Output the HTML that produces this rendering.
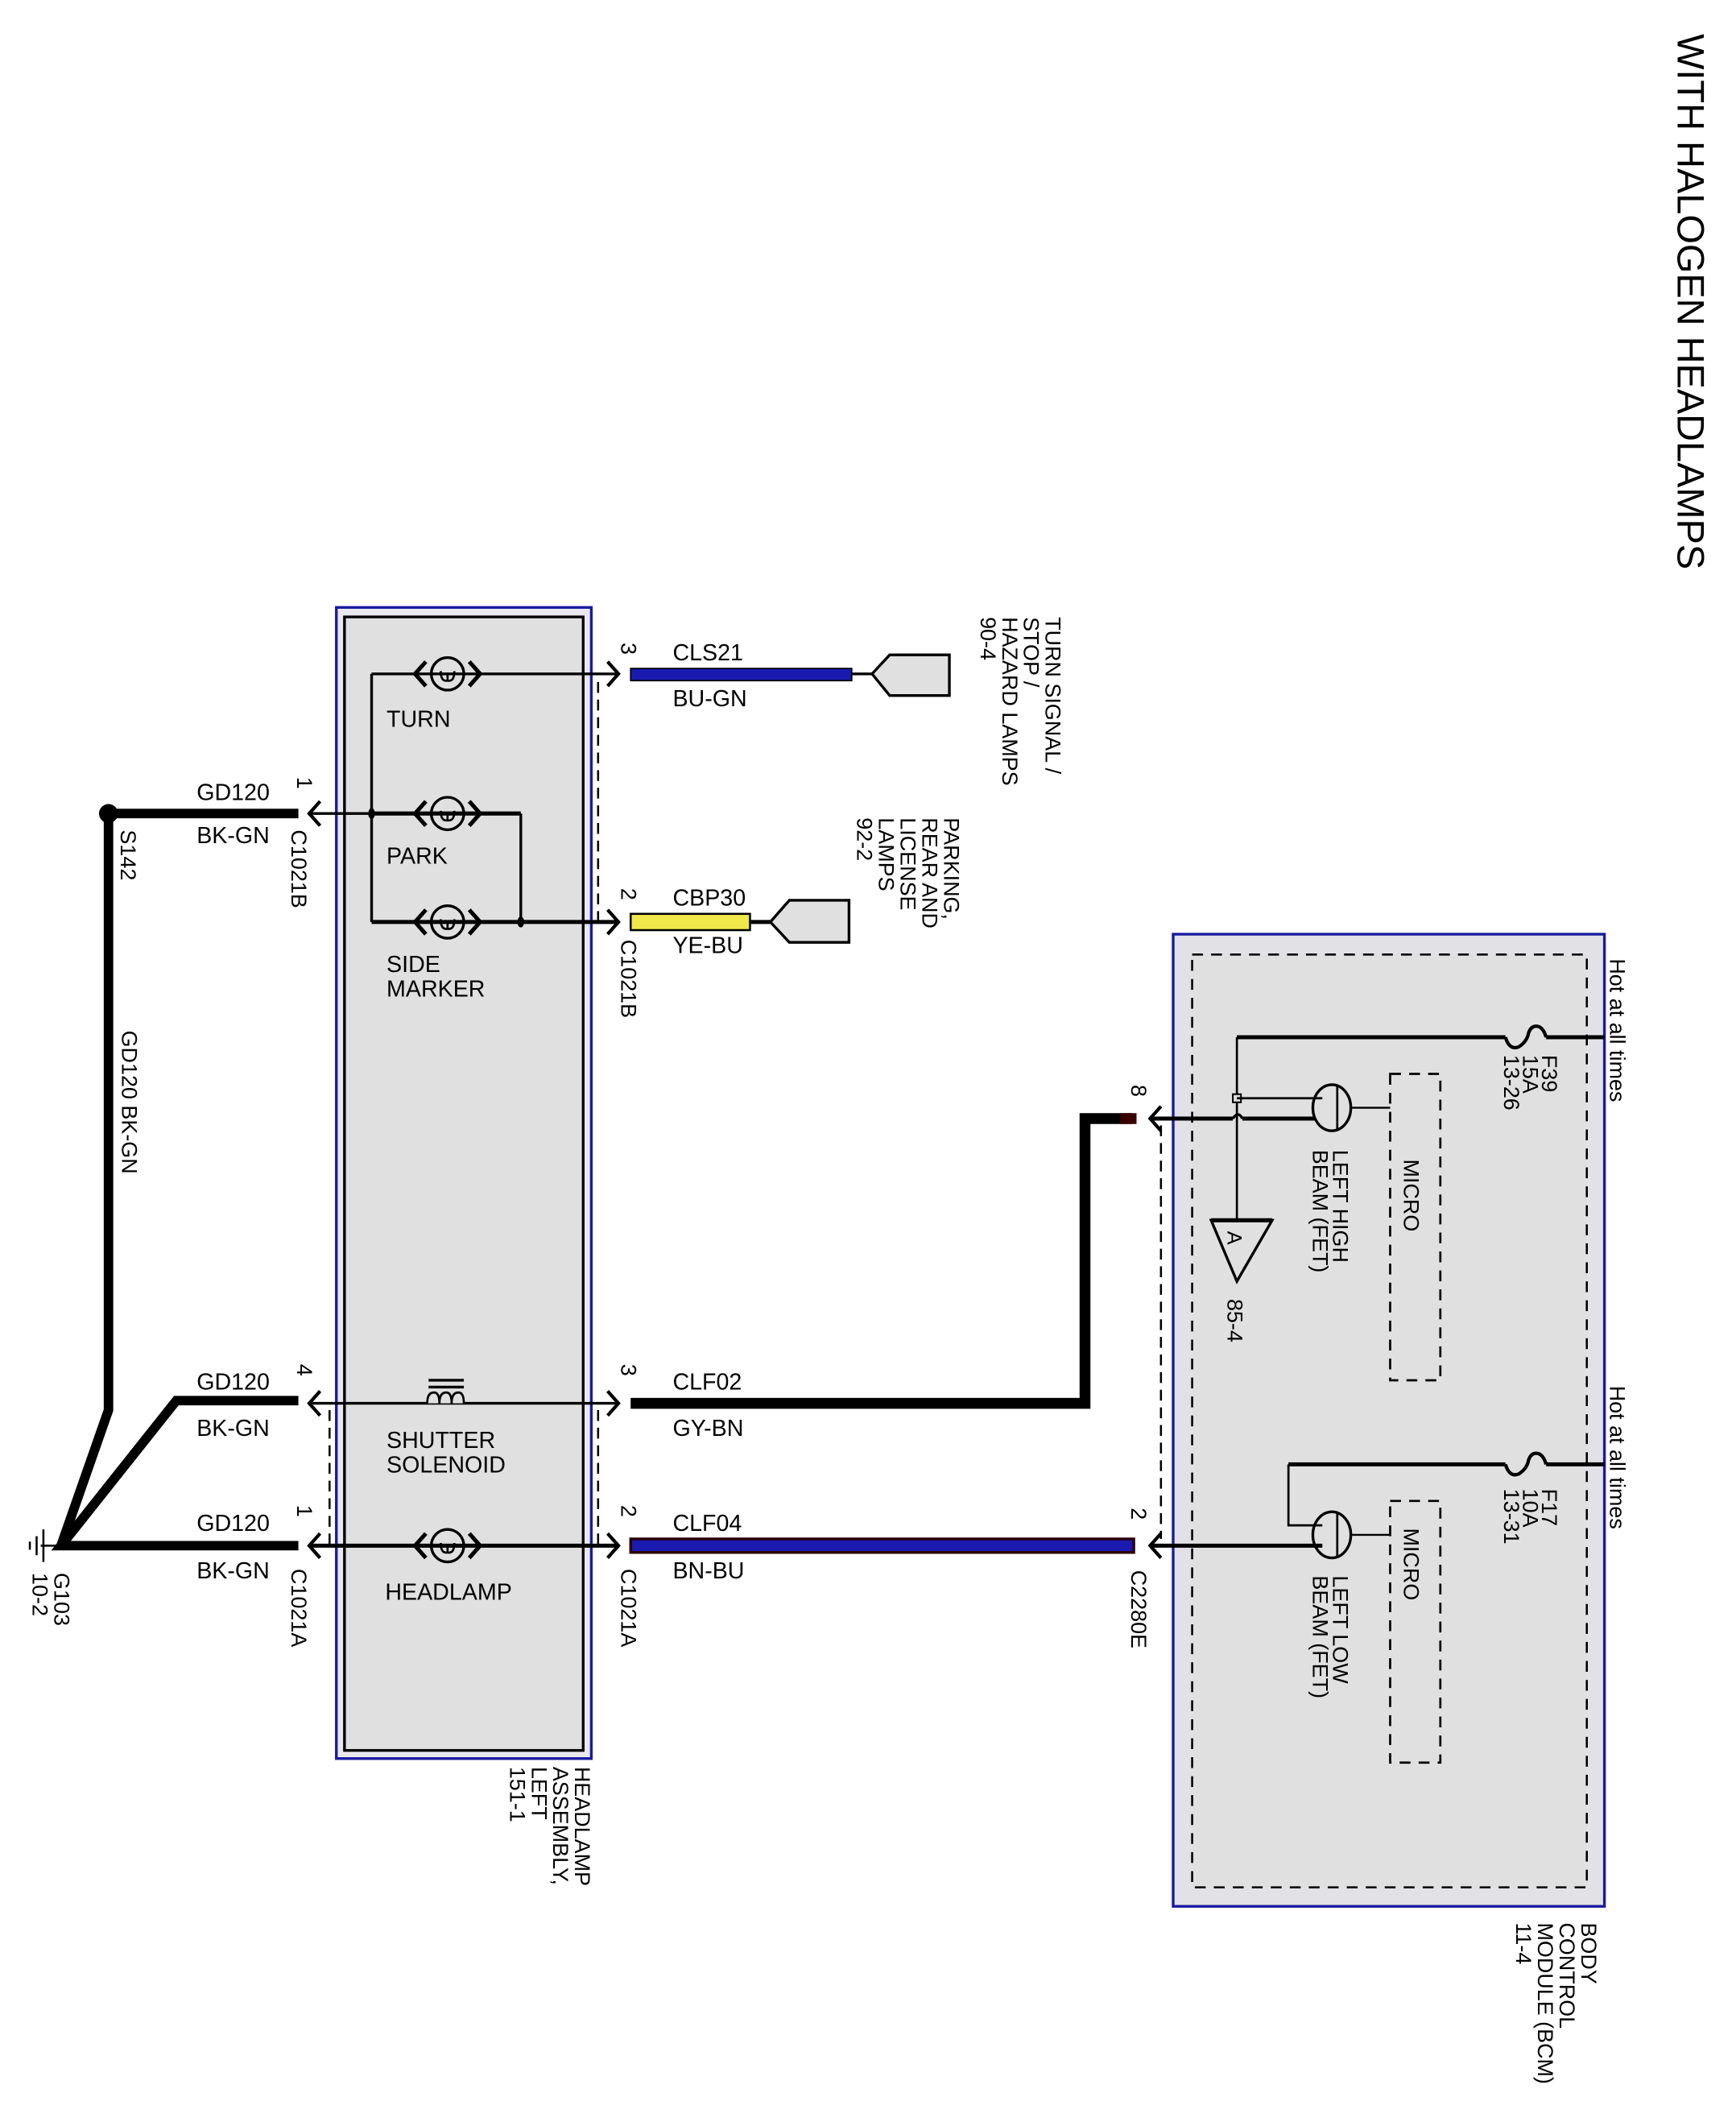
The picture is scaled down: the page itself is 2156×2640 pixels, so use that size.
<!DOCTYPE html>
<html><head><meta charset="utf-8"><style>
html,body{margin:0;padding:0;background:#fff;}
svg{display:block;}
text{font-family:"Liberation Sans",Arial,sans-serif;fill:#000;}
</style></head><body>
<svg width="2156" height="2640" viewBox="0 0 1280 1568" preserveAspectRatio="none" xmlns="http://www.w3.org/2000/svg">
<defs>
<g id="lamp">
<circle cx="0" cy="0" r="12" fill="none" stroke="#000" stroke-width="2"/>
<path d="M-5,-2 Q-5,6 0,5 Q5,6 5,-2 M0,-1 L0,5" fill="none" stroke="#000" stroke-width="1.6"/>
<path d="M-16,-9 L-24,0 L-16,9" fill="none" stroke="#000" stroke-width="3"/>
<path d="M16,-9 L24,0 L16,9" fill="none" stroke="#000" stroke-width="3"/>
</g>
</defs>
<rect width="1280" height="1568" fill="#fff"/>

<!-- Title -->
<text transform="translate(1237,25) rotate(90)" font-size="28" textLength="395" lengthAdjust="spacingAndGlyphs">WITH HALOGEN HEADLAMPS</text>

<!-- Headlamp assembly box -->
<rect x="248" y="448" width="188" height="849" fill="#e8e8ee" stroke="#1a1aa0" stroke-width="2"/>
<rect x="254" y="455" width="176" height="836" fill="#e0e0e0" stroke="#000" stroke-width="2"/>
<text transform="translate(424,1303) rotate(90)" font-size="16"><tspan x="0" dy="0">HEADLAMP</tspan><tspan x="0" dy="16">ASSEMBLY,</tspan><tspan x="0" dy="16">LEFT</tspan><tspan x="0" dy="16">151-1</tspan></text>

<!-- dashed connector lines -->
<line x1="441" y1="503" x2="441" y2="680" stroke="#000" stroke-width="1.5" stroke-dasharray="8,5"/>
<line x1="441" y1="1040" x2="441" y2="1140" stroke="#000" stroke-width="1.5" stroke-dasharray="8,5"/>
<line x1="243" y1="1040" x2="243" y2="1140" stroke="#000" stroke-width="1.5" stroke-dasharray="8,5"/>
<line x1="856" y1="830" x2="856" y2="1135" stroke="#000" stroke-width="1.5" stroke-dasharray="8,5"/>

<!-- TURN -->
<line x1="274" y1="497" x2="455" y2="497" stroke="#000" stroke-width="2"/>
<line x1="274" y1="497" x2="274" y2="680" stroke="#000" stroke-width="2"/>
<use href="#lamp" x="330" y="497"/>
<text x="285" y="536" font-size="17">TURN</text>
<path d="M448,488 L456,497 L448,506" fill="none" stroke="#000" stroke-width="2.5"/>
<rect x="465" y="493" width="163" height="9" fill="#1a1ab0" stroke="#000" stroke-width="1"/>
<line x1="628" y1="497" x2="643" y2="497" stroke="#000" stroke-width="2"/>
<path d="M643,497 L656,483 L700,483 L700,513 L656,513 Z" fill="#e0e0e0" stroke="#000" stroke-width="2"/>
<text transform="translate(458,474) rotate(90)" font-size="16">3</text>
<text x="496" y="487" font-size="17">CLS21</text>
<text x="496" y="521" font-size="17">BU-GN</text>
<text transform="translate(771,455) rotate(90)" font-size="16"><tspan x="0" dy="0">TURN SIGNAL /</tspan><tspan x="0" dy="16">STOP /</tspan><tspan x="0" dy="16">HAZARD LAMPS</tspan><tspan x="0" dy="16">90-4</tspan></text>

<!-- PARK -->
<line x1="80" y1="600" x2="220" y2="600" stroke="#000" stroke-width="7"/>
<path d="M236,591 L228,600 L236,609" fill="none" stroke="#000" stroke-width="2.5"/>
<line x1="228" y1="600" x2="274" y2="600" stroke="#000" stroke-width="2"/>
<line x1="274" y1="600" x2="384" y2="600" stroke="#000" stroke-width="3"/>
<ellipse cx="274" cy="600" rx="2.5" ry="4" fill="#000"/>
<use href="#lamp" x="330" y="600"/>
<line x1="384" y1="600" x2="384" y2="680" stroke="#000" stroke-width="2"/>
<text x="285" y="637" font-size="17">PARK</text>
<circle cx="80" cy="600" r="7" fill="#000"/>
<text x="145" y="590" font-size="17">GD120</text>
<text x="145" y="622" font-size="17">BK-GN</text>
<text transform="translate(219,573) rotate(90)" font-size="16">1</text>
<text transform="translate(215,612) rotate(90)" font-size="16">C1021B</text>
<text transform="translate(89,612) rotate(90)" font-size="16">S142</text>

<!-- SIDE MARKER -->
<line x1="274" y1="680" x2="455" y2="680" stroke="#000" stroke-width="3"/>
<ellipse cx="384" cy="680" rx="2.5" ry="4" fill="#000"/>
<use href="#lamp" x="330" y="680"/>
<text x="285" y="717" font-size="17">SIDE</text>
<text x="285" y="735" font-size="17">MARKER</text>
<path d="M448,671 L456,680 L448,689" fill="none" stroke="#000" stroke-width="2.5"/>
<rect x="465" y="674" width="88" height="12" fill="#f0e84a" stroke="#000" stroke-width="1.5"/>
<line x1="553" y1="680" x2="568" y2="680" stroke="#000" stroke-width="3"/>
<path d="M568,680 L582,664 L626,664 L626,695 L582,695 Z" fill="#e0e0e0" stroke="#000" stroke-width="2"/>
<text transform="translate(458,655) rotate(90)" font-size="16">2</text>
<text transform="translate(458,693) rotate(90)" font-size="16">C1021B</text>
<text x="496" y="668" font-size="17">CBP30</text>
<text x="496" y="703" font-size="17">YE-BU</text>
<text transform="translate(696,603) rotate(90)" font-size="16"><tspan x="0" dy="0">PARKING,</tspan><tspan x="0" dy="16">REAR AND</tspan><tspan x="0" dy="16">LICENSE</tspan><tspan x="0" dy="16">LAMPS</tspan><tspan x="0" dy="16">92-2</tspan></text>

<!-- ground trunk -->
<polyline points="80,600 80,1040 45,1140" fill="none" stroke="#000" stroke-width="7" stroke-linejoin="miter"/>
<polyline points="220,1033 130,1033 45,1140 220,1140" fill="none" stroke="#000" stroke-width="7"/>
<text transform="translate(90,760) rotate(90)" font-size="16">GD120  BK-GN</text>
<line x1="30" y1="1140" x2="45" y2="1140" stroke="#000" stroke-width="1.5"/>
<line x1="32" y1="1128" x2="32" y2="1152" stroke="#000" stroke-width="1.5"/>
<line x1="27" y1="1133" x2="27" y2="1147" stroke="#000" stroke-width="1.5"/>
<line x1="22" y1="1137" x2="22" y2="1143" stroke="#000" stroke-width="1.5"/>
<text transform="translate(40,1160) rotate(90)" font-size="16"><tspan x="0" dy="0">G103</tspan><tspan x="0" dy="16">10-2</tspan></text>

<!-- SHUTTER SOLENOID -->
<text x="145" y="1025" font-size="17">GD120</text>
<text x="145" y="1059" font-size="17">BK-GN</text>
<text transform="translate(219,1006) rotate(90)" font-size="16">4</text>
<path d="M236,1026 L228,1035 L236,1044" fill="none" stroke="#000" stroke-width="2.5"/>
<line x1="228" y1="1035" x2="455" y2="1035" stroke="#000" stroke-width="2"/>
<path d="M315,1035 Q315,1027 320,1027 Q324,1027 324,1035 M324,1035 Q324,1027 329,1027 Q333,1027 333,1035 M333,1035 Q333,1027 338,1027 Q342,1027 342,1035" fill="#e0e0e0" stroke="#000" stroke-width="1.6"/>
<line x1="316" y1="1018" x2="342" y2="1018" stroke="#000" stroke-width="2"/>
<line x1="316" y1="1023" x2="342" y2="1023" stroke="#000" stroke-width="2"/>
<text x="285" y="1068" font-size="17">SHUTTER</text>
<text x="285" y="1086" font-size="17">SOLENOID</text>
<path d="M448,1026 L456,1035 L448,1044" fill="none" stroke="#000" stroke-width="2.5"/>
<text transform="translate(458,1006) rotate(90)" font-size="16">3</text>
<polyline points="465,1035 800,1035 800,825 835,825" fill="none" stroke="#000" stroke-width="8"/>
<line x1="826" y1="825" x2="838" y2="825" stroke="#3a0000" stroke-width="8"/>
<text x="496" y="1025" font-size="17">CLF02</text>
<text x="496" y="1059" font-size="17">GY-BN</text>

<!-- HEADLAMP -->
<text x="145" y="1129" font-size="17">GD120</text>
<text x="145" y="1164" font-size="17">BK-GN</text>
<text transform="translate(219,1110) rotate(90)" font-size="16">1</text>
<text transform="translate(215,1157) rotate(90)" font-size="16">C1021A</text>
<path d="M236,1131 L228,1140 L236,1149" fill="none" stroke="#000" stroke-width="2.5"/>
<line x1="228" y1="1140" x2="455" y2="1140" stroke="#000" stroke-width="3"/>
<use href="#lamp" x="330" y="1140"/>
<text x="284" y="1180" font-size="17">HEADLAMP</text>
<path d="M448,1131 L456,1140 L448,1149" fill="none" stroke="#000" stroke-width="2.5"/>
<text transform="translate(458,1110) rotate(90)" font-size="16">2</text>
<text transform="translate(458,1157) rotate(90)" font-size="16">C1021A</text>
<rect x="465" y="1135" width="371" height="10" fill="#1a1ab0" stroke="#2a0000" stroke-width="2"/>
<text x="496" y="1129" font-size="17">CLF04</text>
<text x="496" y="1164" font-size="17">BN-BU</text>

<!-- BCM -->
<rect x="865" y="689" width="318" height="717" fill="#e2e2e6" stroke="#1a1aa0" stroke-width="2"/>
<rect x="879" y="704" width="291" height="688" fill="#e0e0e0" stroke="#000" stroke-width="1.5" stroke-dasharray="8,6"/>
<text transform="translate(1166,1418) rotate(90)" font-size="16"><tspan x="0" dy="0">BODY</tspan><tspan x="0" dy="16">CONTROL</tspan><tspan x="0" dy="16">MODULE (BCM)</tspan><tspan x="0" dy="16">11-4</tspan></text>

<!-- pin 8 -->
<path d="M856,816 L848,825 L856,834" fill="none" stroke="#000" stroke-width="2.5"/>
<text transform="translate(834,800) rotate(90)" font-size="16">8</text>
<line x1="848" y1="825" x2="909" y2="825" stroke="#000" stroke-width="3"/>
<path d="M909,825 Q913,819 916,825" fill="none" stroke="#000" stroke-width="2"/>
<line x1="916" y1="825" x2="970" y2="825" stroke="#000" stroke-width="3"/>
<!-- F39 -->
<text transform="translate(1187,707) rotate(90)" font-size="16">Hot at all times</text>
<line x1="912" y1="765" x2="1110" y2="765" stroke="#000" stroke-width="3"/>
<path d="M1110,765 Q1113,775 1120,772 Q1126,768 1127,762 Q1129,756 1134,757 Q1138,758 1140,765" fill="none" stroke="#000" stroke-width="2.5"/>
<line x1="1140" y1="765" x2="1183" y2="765" stroke="#000" stroke-width="3"/>
<text transform="translate(1137,778) rotate(90)" font-size="16"><tspan x="0" dy="0">F39</tspan><tspan x="0" dy="14">15A</tspan><tspan x="0" dy="14">13-26</tspan></text>
<line x1="912" y1="765" x2="912" y2="900" stroke="#000" stroke-width="1.6"/>
<rect x="909" y="807" width="6" height="6" fill="#e0e0e0" stroke="#000" stroke-width="1.2"/>
<line x1="912" y1="810" x2="975" y2="810" stroke="#000" stroke-width="1.6"/>
<path d="M893,900 L938,900 L912,945 Z" fill="none" stroke="#000" stroke-width="2"/>
<line x1="893" y1="900" x2="938" y2="900" stroke="#000" stroke-width="3"/>
<text transform="translate(905,908) rotate(90)" font-size="15">A</text>
<text transform="translate(905,958) rotate(90)" font-size="16">85-4</text>
<ellipse cx="982" cy="817" rx="14" ry="17" fill="none" stroke="#000" stroke-width="2"/>
<line x1="986" y1="801" x2="986" y2="833" stroke="#000" stroke-width="1.6"/>
<line x1="995" y1="817" x2="1025" y2="817" stroke="#000" stroke-width="1.4"/>
<rect x="1025" y="792" width="37" height="226" fill="none" stroke="#000" stroke-width="1.6" stroke-dasharray="8,6"/>
<text transform="translate(1035,855) rotate(90)" font-size="16">MICRO</text>
<text transform="translate(983,848) rotate(90)" font-size="16"><tspan x="0" dy="0">LEFT HIGH</tspan><tspan x="0" dy="15">BEAM (FET)</tspan></text>

<!-- pin 2 C2280E -->
<path d="M856,1131 L848,1140 L856,1149" fill="none" stroke="#000" stroke-width="2.5"/>
<text transform="translate(834,1112) rotate(90)" font-size="16">2</text>
<text transform="translate(834,1158) rotate(90)" font-size="16">C2280E</text>
<line x1="848" y1="1140" x2="975" y2="1140" stroke="#000" stroke-width="3"/>
<text transform="translate(1187,1022) rotate(90)" font-size="16">Hot at all times</text>
<line x1="950" y1="1080" x2="1110" y2="1080" stroke="#000" stroke-width="3"/>
<path d="M1110,1080 Q1113,1090 1120,1087 Q1126,1083 1127,1077 Q1129,1071 1134,1072 Q1138,1073 1140,1080" fill="none" stroke="#000" stroke-width="2.5"/>
<line x1="1140" y1="1080" x2="1183" y2="1080" stroke="#000" stroke-width="3"/>
<text transform="translate(1137,1098) rotate(90)" font-size="16"><tspan x="0" dy="0">F17</tspan><tspan x="0" dy="14">10A</tspan><tspan x="0" dy="14">13-31</tspan></text>
<polyline points="950,1080 950,1125 975,1125" fill="none" stroke="#000" stroke-width="1.6"/>
<ellipse cx="982" cy="1132" rx="14" ry="17" fill="none" stroke="#000" stroke-width="2"/>
<line x1="986" y1="1116" x2="986" y2="1148" stroke="#000" stroke-width="1.6"/>
<line x1="995" y1="1132" x2="1025" y2="1132" stroke="#000" stroke-width="1.4"/>
<rect x="1025" y="1107" width="37" height="193" fill="none" stroke="#000" stroke-width="1.6" stroke-dasharray="8,6"/>
<text transform="translate(1035,1127) rotate(90)" font-size="16">MICRO</text>
<text transform="translate(983,1162) rotate(90)" font-size="16"><tspan x="0" dy="0">LEFT LOW</tspan><tspan x="0" dy="15">BEAM (FET)</tspan></text>
</svg>
</body></html>
